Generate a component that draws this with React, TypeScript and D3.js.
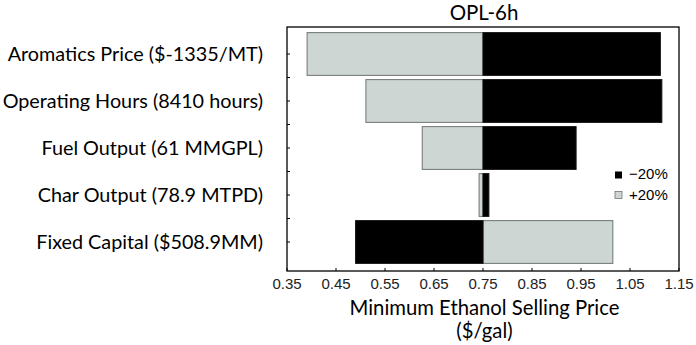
import * as d3 from "d3";

const categories = [
  "Aromatics Price ($-1335/MT)",
  "Operating Hours (8410 hours)",
  "Fuel Output (61 MMGPL)",
  "Char Output (78.9 MTPD)",
  "Fixed Capital ($508.9MM)",
];
const base = 0.75;
const minus20 = [1.112, 1.115, 0.94, 0.762, 0.49];
const plus20 = [0.391, 0.511, 0.626, 0.742, 1.015];
const xTicks = [0.35, 0.45, 0.55, 0.65, 0.75, 0.85, 0.95, 1.05, 1.15];

const W = 696;
const H = 345;
const plot = { left: 287, right: 679, top: 27, bottom: 271 };
const labelFont = "Lato, 'Open Sans', sans-serif";
const numFont = "'Liberation Sans', Arial, sans-serif";
const lightFill = "#cdd6d3";
const lightStroke = "#6e7572";

export default function App() {
  const x = d3.scaleLinear().domain([0.35, 1.15]).range([plot.left, plot.right]);
  const y = d3
    .scaleBand()
    .domain(categories)
    .range([30.5, 265.5])
    .paddingInner(0.09)
    .paddingOuter(0.045);
  const step = y.step();
  const yTickPos = d3.range(1, 10).map((i) => 30.5 + (i * step) / 2);

  const bar = (v: number, i: number, fill: string, stroke: string, key: string) => {
    const c = categories[i];
    const x0 = Math.min(x(v), x(base));
    const w = Math.abs(x(v) - x(base));
    return (
      <rect
        key={key}
        x={x0}
        y={y(c)}
        width={w}
        height={y.bandwidth()}
        fill={fill}
        stroke={stroke}
        strokeWidth={1}
      />
    );
  };

  return (
    <svg
      width={W}
      height={H}
      style={{ position: "absolute", left: 0, top: 0, background: "#fff" }}
    >
      <text x={484} y={20} textAnchor="middle" fontFamily={labelFont} fontSize={20.5}>
        OPL-6h
      </text>

      {plus20.map((v, i) => bar(v, i, lightFill, lightStroke, "p" + i))}
      {minus20.map((v, i) => bar(v, i, "#000", "#111", "m" + i))}

      <rect
        x={plot.left}
        y={plot.top}
        width={plot.right - plot.left}
        height={plot.bottom - plot.top}
        fill="none"
        stroke="#000"
        strokeWidth={1.3}
      />

      {yTickPos.map((t, i) => (
        <line key={"yt" + i} x1={plot.left} x2={plot.left + 3} y1={t} y2={t} stroke="#000" />
      ))}
      {xTicks.map((t, i) => (
        <g key={"xt" + i}>
          <line x1={x(t)} x2={x(t)} y1={plot.bottom} y2={plot.bottom - 3} stroke="#000" />
          <text
            x={x(t)}
            y={289}
            textAnchor="middle"
            fontFamily={numFont}
            fontSize={15}
            fill="#222"
          >
            {t.toFixed(2)}
          </text>
        </g>
      ))}

      {categories.map((c) => (
        <text
          key={c}
          x={263}
          y={(y(c) as number) + y.bandwidth() / 2 + 7}
          textAnchor="end"
          fontFamily={labelFont}
          fontSize={19.8}
        >
          {c}
        </text>
      ))}

      <text x={484.5} y={315} textAnchor="middle" fontFamily={labelFont} fontSize={20.3}>
        Minimum Ethanol Selling Price
      </text>
      <text x={484.5} y={338} textAnchor="middle" fontFamily={labelFont} fontSize={20.3}>
        ($/gal)
      </text>

      <rect x={615} y={171.5} width={7} height={7} fill="#000" />
      <text x={629} y={179} fontFamily={numFont} fontSize={15}>
        −20%
      </text>
      <rect x={615} y={191.5} width={7} height={7} fill={lightFill} stroke={lightStroke} strokeWidth={0.8} />
      <text x={629} y={200} fontFamily={numFont} fontSize={15}>
        +20%
      </text>
    </svg>
  );
}
